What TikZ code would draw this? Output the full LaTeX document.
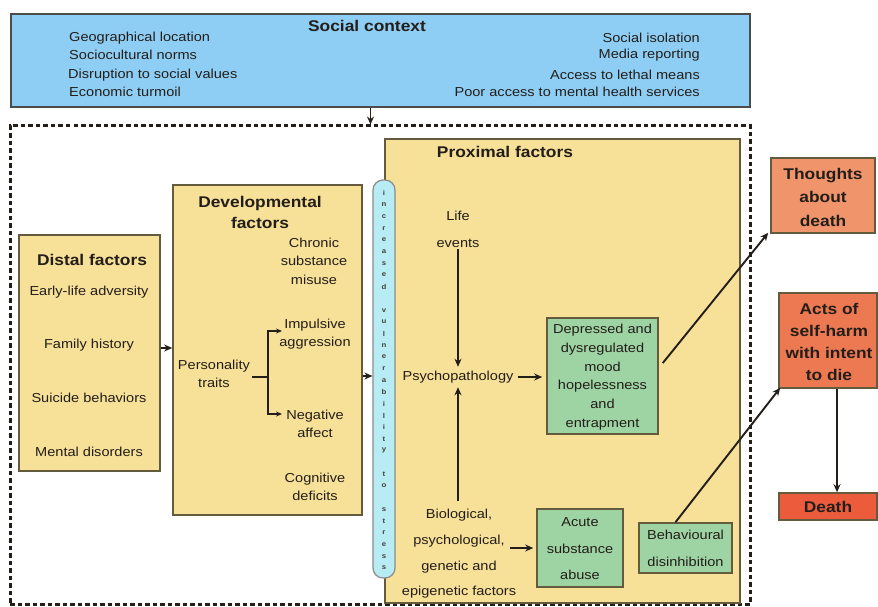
\documentclass[tikz,border=0pt]{standalone}
\usepackage{fontspec}
\setmainfont{Liberation Sans}[FakeStretch=1.12]
\usetikzlibrary{arrows.meta,calc}
\definecolor{sblue}{RGB}{142,206,245}
\definecolor{yel}{RGB}{247,224,152}
\definecolor{grn}{RGB}{158,211,164}
\definecolor{pillc}{RGB}{184,236,244}
\definecolor{thc}{RGB}{240,148,108}
\definecolor{actc}{RGB}{237,121,82}
\definecolor{dthc}{RGB}{236,92,60}
\definecolor{edge}{RGB}{100,90,60}
\definecolor{ink}{RGB}{35,30,25}
\begin{document}
\begin{tikzpicture}[x=1pt,y=-1pt,
  box/.style={draw=edge, line width=1.6pt, inner sep=0pt},
  tx/.style={text=ink, inner sep=0pt, align=center, font=\fontsize{13}{18.5}\selectfont},
  ttl/.style={text=ink, inner sep=0pt, align=center, font=\bfseries\fontsize{15.5}{21}\selectfont},
  arr/.style={draw=ink, line width=1.9pt, -{Stealth[length=8pt,width=7pt]}},
  sarr/.style={draw=ink, line width=1.4pt, -{Stealth[length=6pt,width=5pt]}},
  pl/.style={text=ink!85, inner sep=0pt, font=\bfseries\fontsize{7}{7}\selectfont}
]
\useasboundingbox (0,0) rectangle (878,607);
% outer dashed frame
\node[draw=ink, line width=3pt, dash pattern=on 4.5pt off 3pt, minimum width=740pt, minimum height=478pt, inner sep=0pt] (frame) at (380,365) {};
% social context
\node[box, fill=sblue, draw=black!70, minimum width=739pt, minimum height=93pt] (social) at (380.5,60.5) {};
\node[ttl] (soctitle) at (367,26) {Social context};
\node[tx, anchor=west] (s1) at (69,38) {Geographical location};
\node[tx, anchor=west] (s2) at (69,55) {Sociocultural norms};
\node[tx, anchor=west] (s3) at (68,75) {Disruption to social values};
\node[tx, anchor=west] (s4) at (69,92) {Economic turmoil};
\node[tx, anchor=east] (s5) at (700,38) {Social isolation};
\node[tx, anchor=east] (s6) at (700,55) {Media reporting};
\node[tx, anchor=east] (s7) at (700,75) {Access to lethal means};
\node[tx, anchor=east] (s8) at (700,92) {Poor access to mental health services};
\draw[arr] ([xshift=-10pt]social.south) -- ([xshift=-10pt]social.south |- frame.north);
% distal
\node[box, fill=yel, minimum width=141pt, minimum height=236pt] (distal) at (89.5,353) {};
\node[ttl] (distitle) at (92,260) {Distal factors};
\node[tx] (d1) at (89,292) {Early-life adversity};
\node[tx] (d2) at (89,345) {Family history};
\node[tx] (d3) at (89,398) {Suicide behaviors};
\node[tx] (d4) at (89,452) {Mental disorders};
% developmental
\node[box, fill=yel, minimum width=189pt, minimum height=330pt] (devel) at (267.5,350) {};
\node[ttl] (devtitle) at (260,212) {Developmental\\factors};
\node[tx] (chronic) at (314,261) {Chronic\\substance\\misuse};
\node[tx] (imp) at (315,334) {Impulsive\\aggression};
\node[tx] (pers) at (214,374) {Personality\\traits};
\node[tx] (neg) at (315,424) {Negative\\affect};
\node[tx] (cog) at (315,487) {Cognitive\\deficits};
\coordinate (br) at (268,377);
\draw[draw=ink, line width=1.4pt] (pers.east |- br) ++(2,0) -- (br);
\draw[sarr] (br) -- (br |- 0,331) -- (282,331);
\draw[sarr] (br) -- (br |- 0,414) -- (282,414);
\draw[arr] (distal.east |- 0,348) -- (devel.west |- 0,348);
% proximal
\node[box, fill=yel, minimum width=355pt, minimum height=464pt] (prox) at (562.5,371) {};
\node[box, fill=pillc, draw=black!45, line width=1.2pt, rounded corners=10pt, minimum width=22pt, minimum height=398pt] (pill) at (384,379) {};
\foreach \c [count=\i from 0] in {i,n,c,r,e,a,s,e,d,{},v,u,l,n,e,r,a,b,i,l,i,t,y,{},t,o,{},s,t,r,e,s,s}
  \node[pl] (pc\i) at (384,{193+11.72*\i}) {\c};
\draw[arr] (devel.east |- 0,376) -- (pill.west |- 0,376);
\node[ttl] (proxtitle) at (505,152) {Proximal factors};
\node[tx, font=\fontsize{13}{27}\selectfont] (life) at (458,229) {Life\\events};
\node[tx] (psych) at (458,377) {Psychopathology};
\node[tx, font=\fontsize{13}{25.7}\selectfont] (bio) at (459,554) {Biological,\\psychological,\\genetic and\\epigenetic factors};
\node[box, fill=grn, minimum width=111pt, minimum height=116pt] (dep) at (602.5,376) {};
\node[tx, font=\fontsize{13}{18.7}\selectfont] (deptext) at (602.5,377) {Depressed and\\dysregulated\\mood\\hopelessness\\and\\entrapment};
\node[box, fill=grn, minimum width=86pt, minimum height=78pt] (acute) at (580,548) {};
\node[tx, font=\fontsize{13}{26.5}\selectfont] (acutetext) at (580,549) {Acute\\substance\\abuse};
\node[box, fill=grn, minimum width=93pt, minimum height=50pt] (behav) at (685.5,548) {};
\node[tx, font=\fontsize{13}{26.5}\selectfont] (behavtext) at (685.5,548.5) {Behavioural\\disinhibition};
\draw[arr] ([yshift=-2pt]life.south) -- ([yshift=4pt]psych.north);
\draw[arr] ([yshift=8pt]bio.north -| psych.south) -- ([yshift=-4pt]psych.south);
\draw[arr] ([xshift=4pt]psych.east) -- ([xshift=-4pt]dep.west |- psych.east);
\draw[arr] ([xshift=-26pt]acute.west) -- ([xshift=-3pt]acute.west);
% outcomes
\node[box, fill=thc, minimum width=104pt, minimum height=75pt] (thoughts) at (823,195.5) {};
\node[ttl, font=\bfseries\fontsize{15.5}{23.5}\selectfont] (thtext) at (823,197) {Thoughts\\about\\death};
\node[box, fill=actc, minimum width=98pt, minimum height=95pt] (acts) at (828,340.5) {};
\node[ttl, font=\bfseries\fontsize{15.5}{21.7}\selectfont] (acttext) at (829,342) {Acts of\\self-harm\\with intent\\to die};
\node[box, fill=dthc, minimum width=98pt, minimum height=27pt] (death) at (828,506.5) {};
\node[ttl] (dthtext) at (828,507) {Death};
\draw[arr] ([shift={(4pt,13pt)}]dep.east) -- ([shift={(-2pt,1pt)}]thoughts.south west);
\draw[arr] ([xshift=-10pt]behav.north) -- ([shift={(2pt,1pt)}]acts.south west);
\draw[arr] ([xshift=9pt]acts.south) -- ([xshift=9pt]acts.south |- death.north);
\end{tikzpicture}
\end{document}
